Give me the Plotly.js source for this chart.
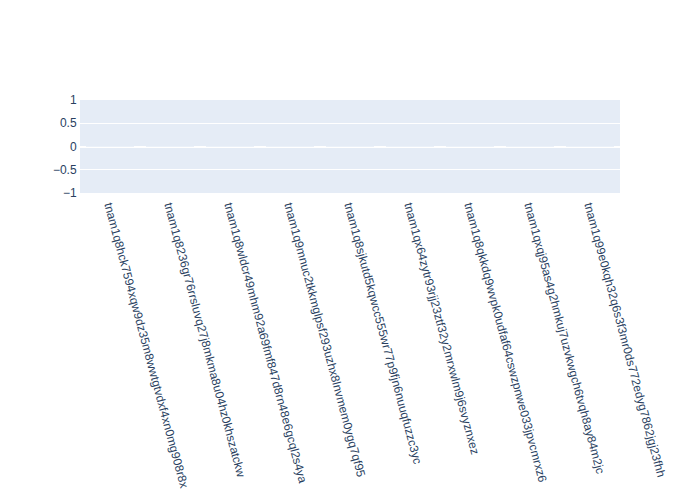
<!DOCTYPE html>
<html>
<head>
<meta charset="utf-8">
<script src="https://cdn.plot.ly/plotly-3.0.1.min.js"></script>
<style>html,body{margin:0;padding:0;}#chart{width:700px;height:500px;}</style>
</head>
<body>
<div id="chart"></div>
<script>
const categories = [
  "tnam1q8hck7594xqw9dz35m8wwtgtvdxf4xn0mg908r8x",
  "tnam1q8236gr76rrsluvq27j8mkma8u04hz0khszatckw",
  "tnam1q8wldcr49mhm92a69fmf847d8rn48e6gcql2s4ya",
  "tnam1q9mnuc2tkkmglpsf293uzhx8lnvmem0ygq7qf95",
  "tnam1q8sjkutd5kqwcc555wr77p9fjn6nuuqfuzzc3yc",
  "tnam1qx64zytr93rjj23ztf32y2mrxwlm9j6svyznxez",
  "tnam1q8qkkdq9wvpk0udfaf64cswzpnwe033jpvcmrxz6",
  "tnam1qxqj95as4g2hmkuj7uzvkwgch6tvqh8ay84m2jc",
  "tnam1q99e0kqh32q6s3f3mr0ds772edyg7862jgj23fhh"
];
const values = [0, 0, 0, 0, 0, 0, 0, 0, 0];

Plotly.newPlot('chart', [{
  type: 'bar',
  x: categories,
  y: values,
  marker: {color: '#636efa', line: {color: '#E5ECF6', width: 0.5}}
}], {
  width: 700,
  height: 500,
  font: {family: 'Liberation Sans, Arial, sans-serif', color: '#2a3f5f', size: 12},
  paper_bgcolor: 'white',
  plot_bgcolor: '#E5ECF6',
  margin: {l: 80, r: 80, t: 100, b: 307},
  xaxis: {tickangle: 75, automargin: false, showgrid: false, linecolor: 'white', ticks: ''},
  yaxis: {range: [-1, 1], automargin: false, gridcolor: 'white', zerolinecolor: 'white', zerolinewidth: 2, linecolor: 'white', ticks: ''}
}, {displayModeBar: false});
</script>
</body>
</html>
